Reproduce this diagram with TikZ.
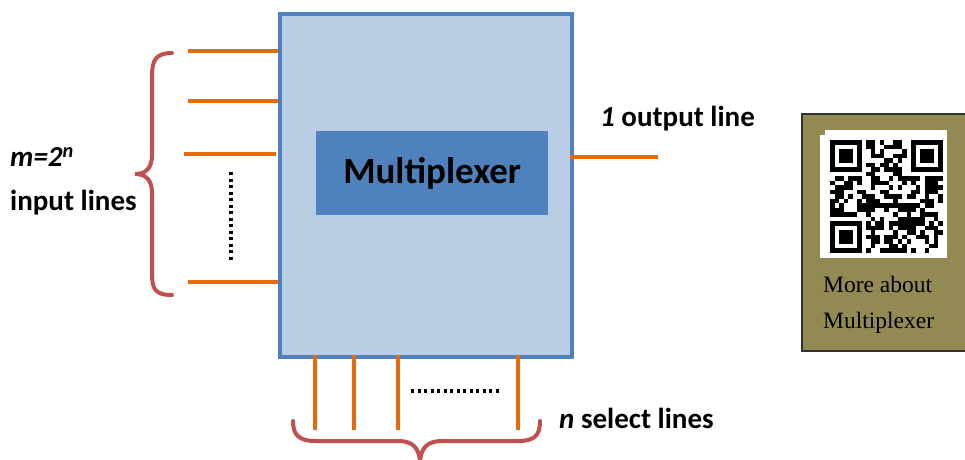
\documentclass[tikz,border=0pt]{standalone}
\usepackage{fontspec}
\setmainfont{Carlito}
\newfontfamily\qrfont{Liberation Serif}
\definecolor{boxblue}{HTML}{4F81BD}
\definecolor{boxfill}{HTML}{B9CDE5}
\definecolor{wire}{HTML}{E46C0A}
\definecolor{brace}{HTML}{C0504D}
\definecolor{olive}{HTML}{938953}
\begin{document}
\begin{tikzpicture}[x=1pt,y=-1pt,
  wireline/.style={draw=wire,line width=4pt},
  braceline/.style={draw=brace,line width=4pt,line cap=round},
  dotline/.style={line width=3.5pt,dash pattern=on 3pt off 3.5pt},
  lbl/.style={font=\bfseries\fontsize{29}{33}\selectfont,inner sep=0pt,anchor=west},
  qrtext/.style={font=\qrfont\fontsize{23.5}{27}\selectfont,inner sep=0pt,anchor=west}]
\useasboundingbox (0,0) rectangle (965,459);
% main box
\node (mux) [draw=boxblue,fill=boxfill,line width=4pt,minimum width=292pt,minimum height=343pt,inner sep=0pt,anchor=north west] at (278,12) {};
\node (core) [fill=boxblue,minimum width=232pt,minimum height=84pt,inner sep=0pt,anchor=north west] at (316,131) {};
\node (corelbl) at (core.center) {\bfseries\fontsize{37}{40}\selectfont Multiplexer};
% input lines
\foreach \y/\xa/\xb [count=\i] in {51/188/278,101/188/278,154/184/276,282/188/278}{
  \coordinate (in\i) at (\xa,\y);
  \coordinate (ie\i) at (\xb,\y);
  \draw[wireline] (in\i) -- (ie\i);
}
\coordinate (dv1) at (231,172);
\coordinate (dv2) at (231,262);
\draw[dotline] (dv1) -- (dv2);
% left brace
\draw[braceline] (172,53) .. controls (156,53) and (152,60) .. (152,76) -- (152,155)
  .. controls (152,168) and (146,174) .. (135,174)
  .. controls (146,174) and (152,180) .. (152,193) -- (152,274)
  .. controls (152,290) and (156,295) .. (172,295);
\node[lbl] (mlbl) at (10,157) {\itshape m=2\textsuperscript{n}};
\node[lbl] (ilbl) at (10,203) {input lines};
% output
\coordinate (out1) at (570,157);
\coordinate (out2) at (658,157);
\draw[wireline] (out1) -- (out2);
\node[lbl] (olbl) at (600,119) {\textit{1} output line};
% select lines
\foreach \x [count=\i] in {315,354,398,518}{
  \coordinate (s\i) at (\x,355);
  \coordinate (se\i) at (\x,430);
  \draw[wireline] (s\i) -- (se\i);
}
\coordinate (dh1) at (411,391);
\coordinate (dh2) at (501,391);
\draw[dotline] (dh1) -- (dh2);
\draw[braceline] (293,421) .. controls (293,436) and (300,441) .. (316,441) -- (398,441)
  .. controls (412,441) and (419,447) .. (420,462)
  .. controls (421,447) and (428,441) .. (442,441) -- (518,441)
  .. controls (534,441) and (540,436) .. (540,421);
\node[lbl] (slbl) at (559,418) {\textit{n} select lines};
% QR panel
\node (qrpanel) [draw=black!80,line width=1.5pt,fill=olive,minimum width=170pt,minimum height=237pt,inner sep=0pt,anchor=north west] at (801,113) {};
\fill[white] (825,135) rectangle (947,258);
\begin{scope}[shift={(830,140)}]
  \pgfmathsetseed{7}
  \foreach \i in {0,...,24}{
    \foreach \j in {0,...,24}{
      \pgfmathrandominteger{\r}{0}{99}
      \ifnum\r<55 \fill[black] (\i*4.5,\j*4.5) rectangle ++(4.5,4.5);\fi
    }
  }
  \foreach \ox/\oy in {0/0,18/0,0/18}{
    \fill[white] (\ox*4.5-4.5,\oy*4.5-4.5) rectangle ++(40.5,40.5);
    \fill[black] (\ox*4.5,\oy*4.5) rectangle ++(31.5,31.5);
    \fill[white] (\ox*4.5+4.5,\oy*4.5+4.5) rectangle ++(22.5,22.5);
    \fill[black] (\ox*4.5+9,\oy*4.5+9) rectangle ++(13.5,13.5);
  }
\end{scope}
\fill[white] (825,130) rectangle (947,135);
\fill[white] (820,135) rectangle (825,258);
\node[qrtext] (q1) at (823,284) {More about};
\node[qrtext] (q2) at (823,323) {Multiplexer};
\end{tikzpicture}
\end{document}
